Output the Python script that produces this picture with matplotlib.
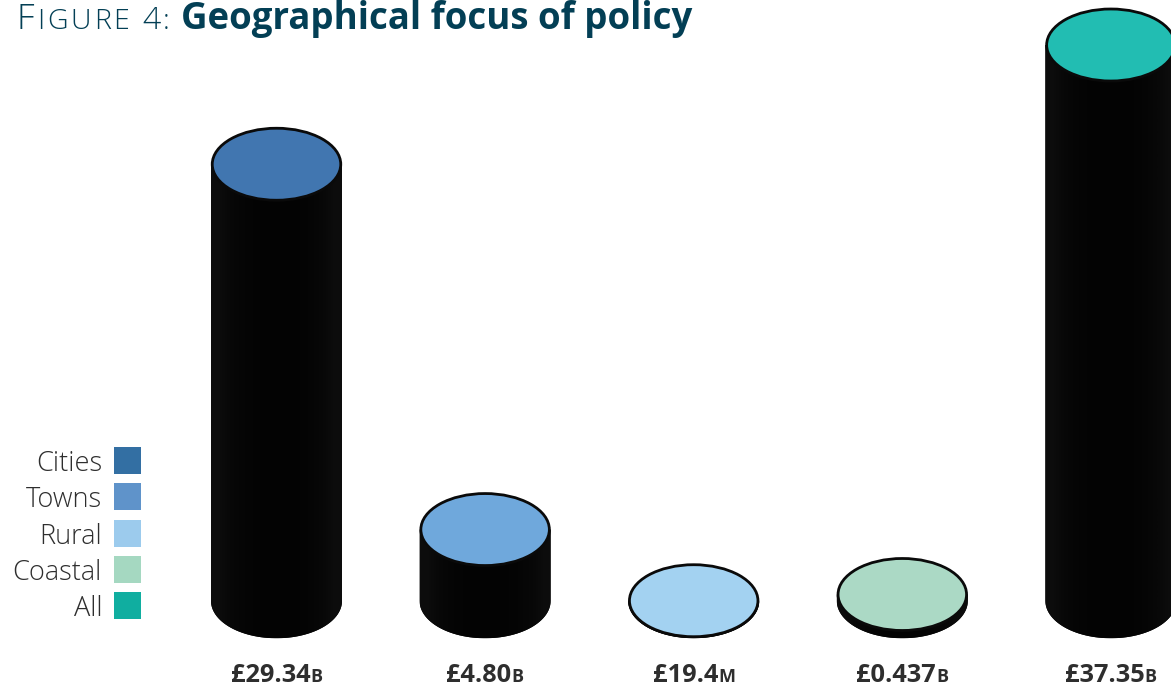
import numpy as np
import matplotlib
matplotlib.use("Agg")
import matplotlib.pyplot as plt
from matplotlib.patches import Ellipse, PathPatch, Rectangle
from matplotlib.path import Path

# spend by geographical focus, in £ billions
categories = ["Cities", "Towns", "Rural", "Coastal", "All"]
values_bn = [29.34, 4.80, 0.0194, 0.437, 37.35]
value_labels = ["£29.34", "£4.80", "£19.4", "£0.437", "£37.35"]
value_units = ["B", "B", "M", "B", "B"]

top_colors = ["#4176b0", "#6fa8dc", "#a3d2f1", "#abd9c5", "#22bdb2"]
legend_colors = ["#336fa3", "#5f93ca", "#9ccbed", "#a5d8c1", "#10aea0"]

W, H = 1171, 690
NAVY = "#033f55"
GREY = "#2e2e2e"

plt.rcParams["font.family"] = ["Open Sans", "DejaVu Sans"]

fig = plt.figure(figsize=(W / 100, H / 100), dpi=100)
ax = fig.add_axes([0, 0, 1, 1])
ax.axis("off")

# px per unit on each axis, zero line sits at y=601
x0, dx = 276.5, 208.6
y0, dy = 601, 14.886
xlim = (-x0 / dx, (W - x0) / dx)
ylim = ((y0 - H) / dy, y0 / dy)

cyl_w = 131 / dx
cyl_h = 74.5 / dy
shade = np.array([[0.05, 0.03, 0.02, 0.014, 0.012, 0.012, 0.014, 0.02, 0.03, 0.05]])


def cylinder(i, val, top):
    # body: straight sides down to a half ellipse at the base
    t = np.linspace(np.pi, 2 * np.pi, 60)
    xs = i + cyl_w / 2 * np.cos(t)
    ys = cyl_h / 2 * np.sin(t)
    verts = np.column_stack([np.r_[i - cyl_w / 2, xs, i + cyl_w / 2, i - cyl_w / 2],
                             np.r_[val, ys, val, val]])
    body = PathPatch(Path(verts), fc="#050505", ec="none", zorder=2)
    ax.add_patch(body)
    im = ax.imshow(shade, cmap="gray", vmin=0, vmax=1, aspect="auto", zorder=2,
                   interpolation="bilinear",
                   extent=(i - cyl_w / 2, i + cyl_w / 2, -cyl_h / 2, val))
    im.set_clip_path(body)
    ax.add_patch(Ellipse((i, val), cyl_w - 2.5 / dx, cyl_h - 2.5 / dy, fc=top, ec="#0a0a0a",
                         lw=2.0, zorder=3))


for i, (val, col) in enumerate(zip(values_bn, top_colors)):
    cylinder(i, val, col)

ax.set_xlim(*xlim)
ax.set_ylim(*ylim)


def px_text(x, y, s, **kw):
    return fig.text(x / W, 1 - y / H, s, **kw)


def text_run(x, y, parts, gap=0):
    # lays out pieces of text one after another on a shared baseline
    for s, kw in parts:
        t = px_text(x, y, s, va="baseline", ha="left", **kw)
        x = t.get_window_extent(fig.canvas.get_renderer()).x1 + gap
    return x


# title with hand-made small caps, letter-spaced one glyph at a time
light = dict(fontweight=300, color=NAVY)
caps = [("F", dict(fontsize=25, **light))]
caps += [(c, dict(fontsize=20.5, **light)) for c in "IGURE"]
end = text_run(17, 29, caps, gap=2.8)
text_run(end + 10, 29, [("4", dict(fontsize=23, **light)), (":", dict(fontsize=20.5, **light))], gap=2)
px_text(181, 29, "Geographical focus of policy", fontsize=26.4, fontweight="bold",
        color=NAVY, va="baseline", ha="left")

# legend
legend_tops = [447, 483, 520, 556, 592]
for name, col, top in zip(categories, legend_colors, legend_tops):
    fig.add_artist(Rectangle((114 / W, 1 - (top + 27) / H), 27 / W, 27 / H,
                             transform=fig.transFigure, fc=col, ec="none"))
    px_text(102, top + 24, name, fontsize=19.5, fontweight=300, color=GREY,
            va="baseline", ha="right")

# value labels under each column, centred on the pair of runs
rend = fig.canvas.get_renderer()
for i, (lab, unit) in enumerate(zip(value_labels, value_units)):
    cx = ax.transData.transform((i, 0))[0]
    probe = [px_text(0, 0, lab, fontsize=18.3, fontweight="bold"),
             px_text(0, 0, unit, fontsize=13, fontweight="bold")]
    width = sum(p.get_window_extent(rend).width for p in probe)
    for p in probe:
        p.remove()
    text_run(cx - width / 2, 682, [
        (lab, dict(fontsize=18.3, fontweight="bold", color=GREY)),
        (unit, dict(fontsize=13, fontweight="bold", color=GREY)),
    ])

fig.savefig("out.png", dpi=100, facecolor="white")
